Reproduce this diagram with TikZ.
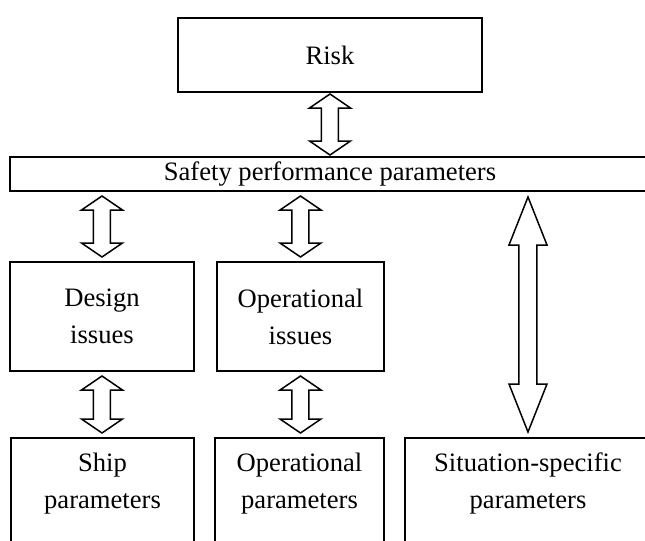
\documentclass[tikz,border=0pt]{standalone}
\usepackage{fontspec}
\setmainfont{Liberation Serif}
\usepackage{tikz}
\usetikzlibrary{calc}

\begin{document}
\begin{tikzpicture}[x=0.5pt, y=-0.5pt]
    \tikzstyle{box_style} = [draw, line width=1pt, inner sep=0pt, align=center, font=\fontsize{13.3}{18.5}\selectfont]
    \tikzstyle{low_box} = [box_style, anchor=north, inner ysep=7.5pt, text depth=70pt]
    % hollow double arrow: head half width, shaft half width, head length, gap
    \tikzset{arrow_style/.style n args={4}{draw, line width=0.75pt,
        to path={let \p1=(\tikztostart), \p2=(\tikztotarget) in
        ({\x1},{\y1-#4}) -- ({\x1+#1},{\y1-#4-#3}) -- ({\x1+#2},{\y1-#4-#3})
        -- ({\x1+#2},{\y2+#4+#3}) -- ({\x1+#1},{\y2+#4+#3}) -- ({\x1},{\y2+#4})
        -- ({\x1-#1},{\y2+#4+#3}) -- ({\x1-#2},{\y2+#4+#3}) -- ({\x1-#2},{\y1-#4-#3})
        -- ({\x1-#1},{\y1-#4-#3}) -- cycle}}}
    \tikzstyle{small_arrow} = [arrow_style={10.25pt}{4.25pt}{7pt}{2pt}]
    \tikzstyle{big_arrow} = [arrow_style={9.5pt}{4.5pt}{24pt}{2.5pt}]

    \useasboundingbox (0,0) rectangle (645,541);
    \clip (0,0) rectangle (645,541);

    \node[box_style, minimum width=152pt, minimum height=37pt] (risk) at (330,55) {Risk};
    \node[box_style, minimum width=320pt, minimum height=17pt] (safety) at (330,174) {Safety performance parameters};
    \node[box_style, minimum width=92pt, minimum height=54.5pt] (design) at (102,316.5) {Design\\issues};
    \node[box_style, minimum width=83.5pt, minimum height=54.5pt] (opissues) at (300.5,316.5) {Operational\\issues};
    \node[low_box, minimum width=91.5pt] (ship) at (102.5,437) {Ship\\parameters};
    \node[low_box, minimum width=84.5pt] (opparams) at (299.5,437) {Operational\\parameters};
    \node[low_box, minimum width=123pt] (situation) at (528,437) {Situation-specific\\parameters};

    \draw[arrow_style={10.25pt}{4.25pt}{7pt}{0.5pt}] (risk.south) to (safety.north -| risk.south);
    \draw[small_arrow] (safety.south -| design.north) to (design.north);
    \draw[small_arrow] (safety.south -| opissues.north) to (opissues.north);
    \draw[small_arrow] (design.south) to (ship.north);
    \draw[small_arrow] (opissues.south) to (opparams.north);
    \draw[big_arrow] (safety.south -| situation.north) to (situation.north);
\end{tikzpicture}
\end{document}
